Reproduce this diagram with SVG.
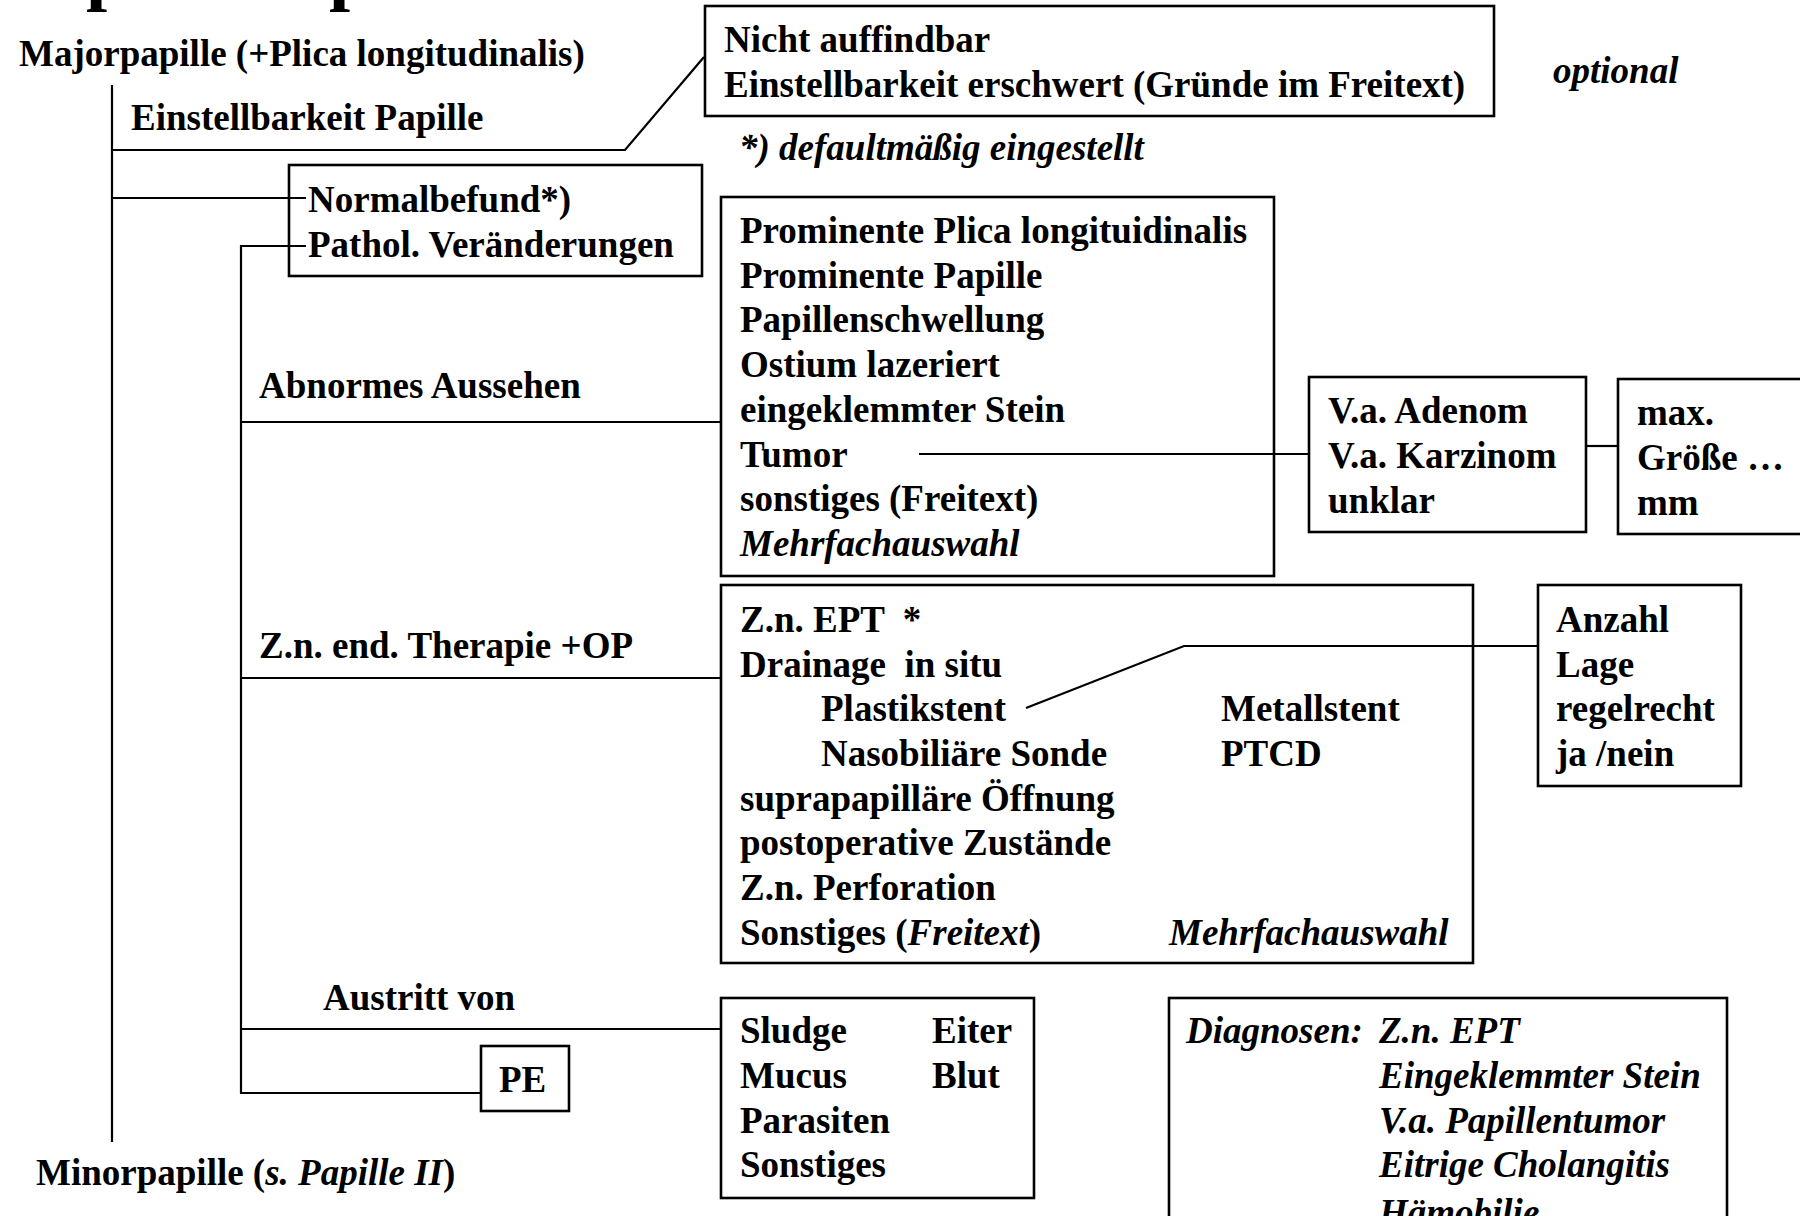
<svg xmlns="http://www.w3.org/2000/svg" width="1800" height="1216" viewBox="0 0 1800 1216">
  <style>
    text { font-family: "Liberation Serif", "Times New Roman", serif; font-size: 37px; font-weight: bold; fill: #000; white-space: pre; }
    .it { font-style: italic; }
    .box { fill: none; stroke: #000; stroke-width: 2.6; }
    .ln { fill: none; stroke: #000; stroke-width: 2.2; }
  </style>
  <rect width="1800" height="1216" fill="#fff"/>

  <!-- heading, mostly above the top edge -->
  <text style="font-size:76px" y="-4"><tspan x="86">p</tspan><tspan x="329">p</tspan></text>

  <!-- connectors -->
  <g id="connectors">
    <path class="ln" d="M112 85 V1142"/>
    <path class="ln" d="M112 150 H625 L704 57"/>
    <path class="ln" d="M112 198 H306"/>
    <path class="ln" d="M306 246 H241 V1093 H481"/>
    <path class="ln" d="M241 422 H721"/>
    <path class="ln" d="M241 678 H721"/>
    <path class="ln" d="M241 1029 H721"/>
    <path class="ln" d="M919 454 H1309"/>
    <path class="ln" d="M1586 446 H1618"/>
    <path class="ln" d="M1026 708 L1184 646 H1538"/>
  </g>

  <!-- free labels on the tree -->
  <g id="labels">
    <text x="19" y="66">Majorpapille (+Plica longitudinalis)</text>
    <text x="131" y="130">Einstellbarkeit Papille</text>
    <text x="259" y="398">Abnormes Aussehen</text>
    <text x="259" y="658">Z.n. end. Therapie +OP</text>
    <text x="323" y="1010">Austritt von</text>
    <text x="36" y="1185">Minorpapille (<tspan class="it">s. Papille II</tspan>)</text>
    <text class="it" x="1553" y="83">optional</text>
    <text class="it" x="739" y="160">*) defaultmäßig eingestellt</text>
  </g>

  <g id="node-einstellbarkeit">
    <rect class="box" x="705" y="6" width="789" height="110"/>
    <text x="724" y="52">Nicht auffindbar</text>
    <text x="724" y="97">Einstellbarkeit erschwert (Gründe im Freitext)</text>
  </g>

  <g id="node-befund">
    <rect class="box" x="289" y="165" width="413" height="111"/>
    <text x="308" y="212">Normalbefund*)</text>
    <text x="308" y="257">Pathol. Veränderungen</text>
  </g>

  <g id="node-aussehen">
    <rect class="box" x="721" y="197" width="553" height="379"/>
    <text x="740" y="243">Prominente Plica longituidinalis</text>
    <text x="740" y="288">Prominente Papille</text>
    <text x="740" y="332">Papillenschwellung</text>
    <text x="740" y="377">Ostium lazeriert</text>
    <text x="740" y="422">eingeklemmter Stein</text>
    <text x="740" y="467">Tumor</text>
    <text x="740" y="511">sonstiges (Freitext)</text>
    <text class="it" x="740" y="556">Mehrfachauswahl</text>
  </g>

  <g id="node-tumor">
    <rect class="box" x="1309" y="377" width="277" height="155"/>
    <text x="1328" y="423">V.a. Adenom</text>
    <text x="1328" y="468">V.a. Karzinom</text>
    <text x="1328" y="513">unklar</text>
  </g>

  <g id="node-groesse">
    <rect class="box" x="1618" y="379" width="200" height="155"/>
    <text x="1637" y="425">max.</text>
    <text x="1637" y="470">Größe …</text>
    <text x="1637" y="515">mm</text>
  </g>

  <g id="node-therapie">
    <rect class="box" x="721" y="585" width="752" height="378"/>
    <text x="740" y="632">Z.n. EPT  *</text>
    <text x="740" y="677">Drainage  in situ</text>
    <text x="821" y="721">Plastikstent</text>
    <text x="1221" y="721">Metallstent</text>
    <text x="821" y="766">Nasobiliäre Sonde</text>
    <text x="1221" y="766">PTCD</text>
    <text x="740" y="811">suprapapilläre Öffnung</text>
    <text x="740" y="855">postoperative Zustände</text>
    <text x="740" y="900">Z.n. Perforation</text>
    <text x="740" y="945">Sonstiges (<tspan class="it">Freitext</tspan>)</text>
    <text class="it" x="1169" y="945">Mehrfachauswahl</text>
  </g>

  <g id="node-stent">
    <rect class="box" x="1538" y="585" width="203" height="201"/>
    <text x="1556" y="632">Anzahl</text>
    <text x="1556" y="677">Lage</text>
    <text x="1556" y="721">regelrecht</text>
    <text x="1556" y="766">ja /nein</text>
  </g>

  <g id="node-austritt">
    <rect class="box" x="721" y="998" width="313" height="200"/>
    <text x="740" y="1043">Sludge</text>
    <text x="932" y="1043">Eiter</text>
    <text x="740" y="1088">Mucus</text>
    <text x="932" y="1088">Blut</text>
    <text x="740" y="1133">Parasiten</text>
    <text x="740" y="1177">Sonstiges</text>
  </g>

  <g id="node-pe">
    <rect class="box" x="481" y="1046" width="88" height="65"/>
    <text x="499" y="1092">PE</text>
  </g>

  <g id="node-diagnosen">
    <rect class="box" x="1169" y="998" width="558" height="240"/>
    <text class="it" x="1186" y="1043">Diagnosen:</text>
    <text class="it" x="1379" y="1043">Z.n. EPT</text>
    <text class="it" x="1379" y="1088">Eingeklemmter Stein</text>
    <text class="it" x="1379" y="1133">V.a. Papillentumor</text>
    <text class="it" x="1379" y="1177">Eitrige Cholangitis</text>
    <text class="it" x="1379" y="1225">Hämobilie</text>
  </g>
</svg>
